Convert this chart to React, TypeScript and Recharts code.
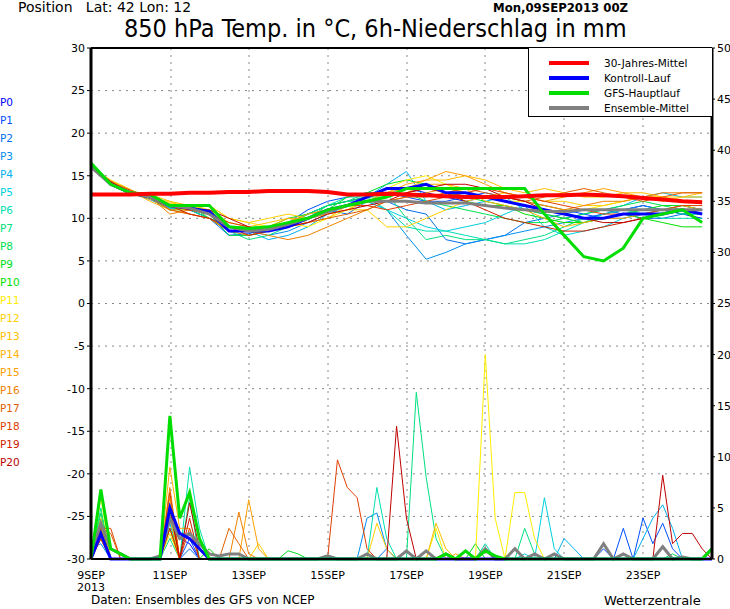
import React from 'react';
import { ComposedChart, Line, XAxis, YAxis, CartesianGrid } from 'recharts';

// 850 hPa temperature, one value every 12 h (9SEP 00Z .. 24SEP 12Z)
const memberTemps: number[][] = [
  [16,14,13,12.5,11.5,11,10,8.5,8.5,9,9.5,10.5,11.5,12,12.5,13,13.5,13,12.5,12,12.5,12,11.5,11,10.5,10,10.5,11,11.5,11,10.5,10],
  [16,14.2,13,12.2,11.2,11.5,10.5,8,8.2,8.8,9.5,11,12,12.5,13,13,12.5,12,12,12.5,13,12.5,12,11.5,11,10.5,10,10,10.5,11,11.5,11],
  [16,14,12.8,12.5,11.5,11,10,8,8,8.5,9,10,11,10.5,12,12,11,10.5,7.5,7,7.5,8,9.5,10,10.5,11,11,10.5,10,10,10.5,11],
  [16,14.3,13.2,12.3,11,11.2,10.5,9,8.5,8,8.5,9.5,10.5,11.5,12,11,8,5.2,6,7,7.5,8,8.5,9,9.5,10,10.5,11,11.5,11,10.5,10.5],
  [16,14,13,12.5,11.2,11,10,9,8.5,7.5,8,9,10.5,11.5,12.5,14,15.5,12,11,11.5,12,12.5,11,10.5,10,10.5,11,11.5,12.5,13,12.5,12.5],
  [16,14.1,12.7,12.8,11.5,11,10.5,8.5,8,8.5,9.5,10.5,11.5,12,12,11,10,9,8.5,9,9.5,10.5,11.5,9,8,8.5,9,10,10.5,11,11,11],
  [16,14,13,12.5,11.5,11.5,10.5,9,9,9,9.5,10.5,11.5,12.5,12.5,11,9,8.5,8.5,8,7.5,7,7,7.5,8.5,9.5,10.5,11,10.5,10,10,10],
  [16,14.2,12.9,12.3,11,11,10,8.5,7.5,8,9,10.5,11.5,12,13,13,10,7.5,8,7.5,7.5,7,7.5,8,9,10,10,10.5,11,11,10.5,10.5],
  [16,14,13,12.5,11.3,11,10.5,8,8,8.5,9.5,10,11.5,12,12.5,12.5,13,12,11.5,11,10.5,10,9.5,9.5,10,10.5,11,11.5,12,11.5,11,10.5],
  [16,14,13,12.5,11.5,11.5,10,8.5,8.5,9,10,10.5,11,12.5,13,14,14.5,14,13,12.5,12,11.5,11,10.5,10,9.5,10,10.5,11,11.5,11.5,11],
  [16,14.1,13,12.3,11.5,11.3,11,9,8.8,9,9.5,10,11,11.5,12,12.5,13.5,14,13,12,11.5,11.5,10.5,10,9.5,9.5,10,10.5,10,9.5,9,9],
  [16,14.3,13.2,12.5,11.8,11.5,11.5,10,9.5,9,9.5,9,10,11,12.5,13.5,14.5,15,14,13,12.5,12,12,11.5,11,11,11.5,12,12.5,12.5,12,12],
  [16,14.5,13.4,12.2,12,11,11.5,10,9.5,10,10.5,10,10.5,11,11,9,9,10,11,12,12.5,13,12.5,12,12,11.5,11.5,12,12.5,12,12.5,12.5],
  [16,14.2,13,12.8,12,11.5,11,9.5,9,9.5,10,9.5,10,11.5,12.5,13,13.5,14.5,14.5,15,14.5,13.5,13,13.5,13,12.5,12.5,13,13,12.5,12.5,13],
  [16,14.4,13.2,12,11,11,10.5,9,8.5,9,10,10,10.5,11,12,12.5,13,14,14,13.5,12,11.5,11,10,9,9.5,10,10,10.5,11,11.5,11],
  [16,14.4,13.3,12.5,11,10.5,10,8.5,8,8.5,9.5,10.5,11,11.5,12,13,14,14.5,15.5,15,14,13,12.5,12,12.5,13,13.5,13,12.5,12.5,12,12],
  [16,14.3,13,12.5,10.5,11,10.5,9,8.5,8,7.5,8,9,10,11,12,12.5,13,13.5,13,12.5,12.5,12,11.5,11,11.5,12,12,12.5,13,13,13],
  [16,14,13,12.5,11,10.5,10,8.5,8.5,8.5,9,9.5,10,10.5,11,12,12.5,12.5,13,13.5,13,12.5,12,12.5,13,13.5,13,12.5,12,12.5,13,13],
  [16,14.2,13.3,12.4,11.5,11,10.5,9.5,9,8.5,9,10,11,11.5,11.5,11,11.5,12,12.5,13,13.5,13,12.5,12,11.5,11,10.5,10.5,10.5,11,11.5,11.5],
  [16,14,12.9,12.5,11.5,10.5,10,9,8,8.5,9,10,11,11.5,12,12.5,13,13.5,13,12,11,10,9.5,9,8.5,8.5,9,9.5,10,10.5,11,11],
  [16,14.3,13,12.6,11.5,11,11,10,9,8.5,9,9.5,10.5,11,11.5,12,13,13.5,14,14,13.5,12.5,12,11,10.5,10,9.5,9.5,10,10.5,11,11],
];
const controlTemp = [16.3,14,13,12.5,11.5,11.2,10.8,8.5,8.5,8.5,9,10,11,11.5,12.5,13.5,13.5,14,13,13,12.5,12,11.5,11,10.5,10,10,10.5,10.5,10.5,11,10.5];
const gfsTemp = [16.5,14,13,12.8,11.5,11.5,11.5,9,8.8,9,9.5,10,11,11.5,12,12.5,13.5,13.5,13.5,13.5,13.5,13.5,13.5,10.5,8,5.5,5,6.5,10,10.5,11,9.5];
const meanTemp = [16,14,13,12.5,11.5,11.2,10.5,9,8.5,8.7,9.3,10,10.8,11.5,12,12,12,11.8,11.8,11.8,11.5,11.2,11,10.8,10.8,11,11,11,11,11,11,11];
const climTemp = [12.8,12.8,12.8,12.9,12.9,13,13,13.1,13.1,13.2,13.2,13.2,13.1,12.8,12.8,12.9,12.8,12.7,12.6,12.5,12.5,12.5,12.6,12.7,12.7,12.8,12.7,12.6,12.4,12.2,12,11.9];

// 6h precipitation: [6h step, mm], steps not listed are dry
const memberPrecip: [number, number][][] = [
  [[1,2.5],[8,4],[9,2],[10,1.5]],
  [[1,3],[8,5.5],[10,2],[52,1],[54,3],[56,4],[57,1.5],[58,3.5],[59,1]],
  [[1,2],[8,4.5],[10,1],[30,1]],
  [[0,1],[1,1.5],[8,3],[28,4],[29,4.5],[30,1]],
  [[1,2],[8,3.5],[48,2],[49,1],[56,2],[57,4],[58,5.3],[59,3]],
  [[1,3],[8,4.5],[44,0.5],[46,6],[47,1]],
  [[1,4],[8,3],[10,9],[11,3],[29,7],[30,2],[40,1.5]],
  [[1,5],[8,2],[10,6],[33,16.3],[34,8],[35,2],[44,3],[45,0.5]],
  [[1,4.5],[8,4],[54,0.5],[59,0.5]],
  [[1,3],[8,5],[20,0.8],[21,0.5],[39,1.5]],
  [[1,3.5],[8,3],[12,1],[40,1]],
  [[1,6],[8,2.5],[35,3],[40,20],[41,4],[43,6.5],[44,6.5],[45,2]],
  [[1,4],[8,3],[17,1.5],[29,3.5],[30,1]],
  [[1,2],[8,4],[35,3.5],[36,1]],
  [[1,3],[8,9],[9,3],[10,3]],
  [[1,2],[8,6],[16,5.8],[17,1],[37,0.5]],
  [[1,3],[8,7],[15,4.6],[16,0.5]],
  [[1,3],[2,2.5],[8,5],[14,3],[15,1.5]],
  [[1,3],[2,3],[8,6.5],[10,3],[25,9.7],[26,7],[27,6],[28,1]],
  [[1,2],[8,3],[10,4],[40,1]],
  [[1,2.5],[8,5],[10,5.5],[11,1],[31,13],[32,4],[58,8.2],[59,1.5],[60,2.5],[61,2.5],[62,1]],
];
const controlPrecip: [number, number][] = [[1,2.5],[8,5],[9,2.5],[10,2],[11,1]];
const gfsPrecip: [number, number][] = [[1,6.8],[2,1],[3,0.5],[8,14],[9,4],[10,6.5],[11,2],[36,0.5],[38,0.8],[40,0.8],[41,0.3],[63,1]];
const meanPrecip: [number, number][] = [[0,0.5],[1,3.5],[2,1],[3,0.5],[7,0.3],[8,4],[9,2],[10,2.5],[11,1.5],[12,0.5],[13,0.3],[14,0.5],[15,0.5],[24,0.3],[28,0.5],[32,0.8],[34,0.8],[36,0.5],[40,1],[43,1],[45,0.5],[47,0.5],[52,1.5],[54,0.5],[58,1.2],[60,0.2],[63,1]];

const memberColors = ['#0000ff','#0050ff','#0070f0','#0090f0','#00b0f0','#00d0e0','#00e0b0','#00e080','#00e050','#00e020','#00e000','#ffee00','#ffd000','#ffc000','#ffb000','#ffa000','#f08000','#e06000','#e04000','#d02000','#c00000'];
const dateTicks = [0, 8, 16, 24, 32, 40, 48, 56];
const dateLabels = ['9SEP', '11SEP', '13SEP', '15SEP', '17SEP', '19SEP', '21SEP', '23SEP'];
const tempTicks = [-30,-25,-20,-15,-10,-5,0,5,10,15,20,25,30];
const precipTicks = [0,5,10,15,20,25,30,35,40,45,50];
const legendItems = [
  { label: '30-Jahres-Mittel', color: '#ff0000' },
  { label: 'Kontroll-Lauf', color: '#0000ff' },
  { label: 'GFS-Hauptlauf', color: '#00dd00' },
  { label: 'Ensemble-Mittel', color: '#808080' },
];

const STEPS = 64;
const rows: any[] = [];
for (let i = 0; i < STEPS; i++) rows.push({ t: i });
const putTemp = (key: string, vals: number[]) => vals.forEach((v, j) => { rows[j * 2][key] = v; });
const putPrecip = (key: string, ev: [number, number][]) => {
  rows.forEach((r) => { r[key] = 0; });
  ev.forEach(([i, v]) => { rows[i][key] = v; });
};
memberTemps.forEach((m, k) => putTemp('T' + k, m));
memberPrecip.forEach((m, k) => putPrecip('R' + k, m));
putTemp('Tc', controlTemp); putTemp('Tg', gfsTemp); putTemp('Tm', meanTemp); putTemp('Tk', climTemp);
putPrecip('Rc', controlPrecip); putPrecip('Rg', gfsPrecip); putPrecip('Rm', meanPrecip);

const font = '"DejaVu Sans", sans-serif';
const condensed = '"DejaVu Sans Condensed", "Liberation Sans Narrow", "DejaVu Sans", sans-serif';

const DateTick = (props: any) => {
  const { x, y, payload } = props;
  const i = dateTicks.indexOf(payload.value);
  return (
    <g>
      <text x={x} y={y + 12} textAnchor="middle" fontSize={11} fontFamily={font} fill="#000">{dateLabels[i]}</text>
      {i === 0 && <text x={x} y={y + 24} textAnchor="middle" fontSize={11} fontFamily={font} fill="#000">2013</text>}
    </g>
  );
};

const App: React.FC = () => {
  return (
    <div style={{ position: 'absolute', left: 0, top: 0, width: 730, height: 609, background: '#fff', fontFamily: font }}>
      <ComposedChart width={730} height={609} data={rows} margin={{ top: 48, right: 0, bottom: 0, left: 0 }}>
        <CartesianGrid yAxisId="temp" stroke="#888" strokeDasharray="2 5" verticalPoints={[171, 249, 328, 407, 485, 564, 643]} />
        <XAxis dataKey="t" type="number" domain={[0, 63]} ticks={dateTicks} tick={<DateTick />} tickLine={false} axisLine={{ stroke: '#000', strokeWidth: 2 }} height={50} interval={0} />
        <YAxis yAxisId="temp" domain={[-30, 30]} ticks={tempTicks} width={91} tick={{ fontSize: 11, fill: '#000', fontFamily: font }} tickSize={4} tickLine={{ stroke: '#000' }} axisLine={{ stroke: '#000', strokeWidth: 3 }} interval={0} />
        <YAxis yAxisId="rain" orientation="right" domain={[0, 50]} ticks={precipTicks} width={18} tick={{ fontSize: 11, fill: '#000', fontFamily: font }} tickSize={3} tickLine={{ stroke: '#000' }} axisLine={{ stroke: '#000', strokeWidth: 3 }} interval={0} />
        {memberPrecip.map((_, k) => (
          <Line key={'R' + k} yAxisId="rain" dataKey={'R' + k} stroke={memberColors[k]} strokeWidth={1} dot={false} isAnimationActive={false} type="linear" />
        ))}
        <Line yAxisId="rain" dataKey="Rm" stroke="#808080" strokeWidth={3} dot={false} isAnimationActive={false} />
        <Line yAxisId="rain" dataKey="Rc" stroke="#0000ff" strokeWidth={3} dot={false} isAnimationActive={false} />
        <Line yAxisId="rain" dataKey="Rg" stroke="#00dd00" strokeWidth={3} dot={false} isAnimationActive={false} />
        {memberTemps.map((_, k) => (
          <Line key={'T' + k} yAxisId="temp" dataKey={'T' + k} stroke={memberColors[k]} strokeWidth={1} dot={false} connectNulls isAnimationActive={false} />
        ))}
        <Line yAxisId="temp" dataKey="Tc" stroke="#0000ff" strokeWidth={3} dot={false} connectNulls isAnimationActive={false} />
        <Line yAxisId="temp" dataKey="Tm" stroke="#808080" strokeWidth={3} dot={false} connectNulls isAnimationActive={false} />
        <Line yAxisId="temp" dataKey="Tg" stroke="#00dd00" strokeWidth={3} dot={false} connectNulls isAnimationActive={false} />
        <Line yAxisId="temp" dataKey="Tk" stroke="#ff0000" strokeWidth={4} dot={false} connectNulls isAnimationActive={false} />
      </ComposedChart>

      <div style={{ position: 'absolute', left: 91, top: 47, width: 621, height: 0, borderTop: '2px solid #000' }} />

      <div style={{ position: 'absolute', left: 18, top: 0, fontSize: 14, lineHeight: '15px' }}>Position&nbsp;&nbsp; Lat: 42 Lon: 12</div>
      <div style={{ position: 'absolute', left: 493, top: 0, fontSize: 13, lineHeight: '15px', fontWeight: 'bold', fontFamily: condensed }}>Mon,09SEP2013 00Z</div>
      <div style={{ position: 'absolute', left: 124, top: 15, fontSize: 25, lineHeight: '27px', fontFamily: condensed }}>850 hPa Temp. in °C, 6h-Niederschlag in mm</div>

      <div style={{ position: 'absolute', left: 528, top: 48, width: 184, height: 69, background: '#fff', borderLeft: '1px solid #000', borderBottom: '1px solid #000', boxSizing: 'border-box' }}>
        {legendItems.map((it, i) => (
          <div key={it.label} style={{ position: 'absolute', left: 20, top: 9 + i * 15, display: 'flex', alignItems: 'center' }}>
            <div style={{ width: 40, height: 4, background: it.color }} />
            <span style={{ marginLeft: 15, fontSize: 10.5 }}>{it.label}</span>
          </div>
        ))}
      </div>

      {memberColors.map((c, k) => (
        <div key={'P' + k} style={{ position: 'absolute', left: 0, top: 96 + k * 18, fontSize: 10.5, color: c }}>P{k}</div>
      ))}

      <div style={{ position: 'absolute', left: 91, top: 593, fontSize: 12 }}>Daten: Ensembles des GFS von NCEP</div>
      <div style={{ position: 'absolute', left: 604, top: 593, fontSize: 13 }}>Wetterzentrale</div>
    </div>
  );
};

export default App;
